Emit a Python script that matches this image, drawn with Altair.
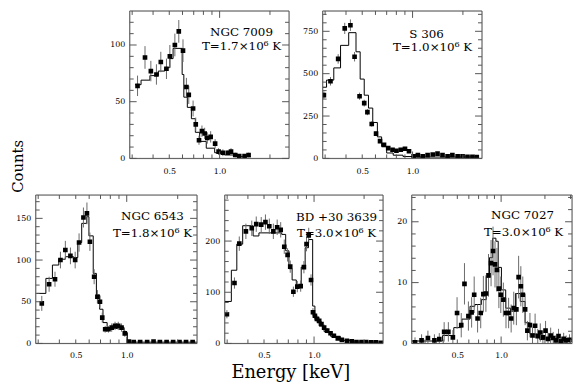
import altair as alt
import pandas as pd

FONT = "DejaVu Serif"
FRAME = "#555555"
ERRC = "#6a6a6a"

# ---------------- data ----------------
# NGC 7009
p1_E = [0.323, 0.358, 0.388, 0.419, 0.445, 0.481, 0.504, 0.540, 0.570, 0.604, 0.633, 0.654, 0.694, 0.720,
        0.753, 0.784, 0.814, 0.844, 0.884, 0.940, 0.986, 1.046, 1.120, 1.170, 1.240, 1.310, 1.410, 1.490]
p1_C = [64, 89, 77, 74, 85, 79, 90, 100, 112, 95, 63, 56, 44, 30, 16, 24, 22, 18, 19, 13, 6, 5, 5, 6, 3, 2, 2, 3]
p1_err = [9, 10, 9, 9, 9, 9, 10, 10, 10, 10, 8, 8, 7, 6, 4, 5, 5, 5, 5, 4, 3, 3, 2, 3, 2, 1, 1, 2]
p1_mE = [0.312, 0.339, 0.383, 0.430, 0.470, 0.504, 0.527, 0.597, 0.611, 0.641, 0.678, 0.716, 0.760, 0.832,
         0.934, 1.07, 1.285, 1.54]
p1_mC = [65, 69, 73, 77, 80, 88, 97, 74, 54, 45, 35, 23, 15, 9, 5, 3, 1.5, 1.5]

# S 306
p2_E = [0.295, 0.323, 0.359, 0.393, 0.425, 0.450, 0.482, 0.514, 0.537, 0.570, 0.605, 0.639, 0.675, 0.715,
        0.759, 0.801, 0.850, 0.901, 0.952, 1.015, 1.076, 1.15, 1.23, 1.32, 1.41, 1.51, 1.62, 1.73, 1.86,
        1.99, 2.13, 2.28, 2.42]
p2_C = [373, 455, 587, 767, 786, 600, 367, 326, 273, 203, 146, 102, 80, 61, 51, 45, 51, 57, 42, 13, 19, 13,
        19, 23, 28, 19, 13, 19, 13, 13, 9, 9, 8]
p2_err = [22, 25, 28, 33, 34, 28, 21, 20, 18, 16, 14, 12, 11, 10, 9, 9, 9, 10, 8, 5, 6, 5, 6, 6, 7, 6, 5, 6,
          5, 5, 4, 4, 4]
p2_mE = [0.289, 0.306, 0.338, 0.371, 0.415, 0.459, 0.486, 0.514, 0.545, 0.578, 0.616, 0.653, 0.700, 0.766,
         0.877, 1.053, 2.49]
p2_mC = [420, 462, 534, 667, 742, 629, 468, 373, 297, 212, 127, 70, 32, 19, 11, 8, 8]

# NGC 6543
p3_E = [0.315, 0.348, 0.377, 0.406, 0.434, 0.465, 0.496, 0.523, 0.555, 0.582, 0.606, 0.642, 0.671, 0.695,
        0.717, 0.746, 0.780, 0.815, 0.853, 0.891, 0.932, 0.974, 1.03, 1.10, 1.20, 1.32, 1.44, 1.57, 1.72,
        1.88, 2.05, 2.24, 2.45]
p3_C = [48, 71, 77, 100, 112, 105, 100, 121, 151, 156, 122, 80, 56, 50, 31, 17, 17, 19, 21, 21, 19, 12, 2.3,
        1.6, 1.6, 1.6, 2.3, 1.6, 1.6, 1.6, 1.6, 1.6, 1.6]
p3_err = [9, 9, 9, 10, 11, 10, 10, 11, 12, 13, 11, 9, 8, 7, 6, 4, 4, 5, 5, 5, 5, 4, 1.5, 1.2, 1.2, 1.2, 1.5,
          1.2, 1.2, 1.2, 1.2, 1.2, 1.2]
p3_mE = [0.294, 0.333, 0.364, 0.397, 0.434, 0.485, 0.514, 0.542, 0.580, 0.598, 0.634, 0.662, 0.692, 0.724,
         0.766, 0.827, 0.883, 0.965, 1.009, 2.62]
p3_mC = [60, 78, 94, 101, 104, 103, 121, 144, 152, 129, 84, 58, 41, 25, 17, 18, 19, 13, 1.5, 1.5]

# BD +30 3639
p4_E = [0.299, 0.332, 0.355, 0.389, 0.422, 0.449, 0.481, 0.510, 0.538, 0.569, 0.600, 0.630, 0.662, 0.693,
        0.719, 0.751, 0.793, 0.831, 0.869, 0.901, 0.929, 0.959, 0.985, 1.012, 1.04, 1.074, 1.108, 1.15,
        1.20, 1.257, 1.316, 1.39, 1.47, 1.577, 1.686, 1.80, 1.93, 2.06, 2.21, 2.36, 2.53]
p4_C = [57, 118, 195, 219, 225, 233, 232, 237, 229, 219, 227, 222, 189, 173, 150, 101, 111, 112, 149, 194,
        211, 124, 61, 54, 48, 44, 38, 31, 25, 20, 15, 10, 7, 5, 4, 2.5, 2.5, 2.5, 2, 2, 1.3]
p4_err = [8, 11, 14, 15, 15, 15, 15, 15, 15, 15, 15, 15, 14, 13, 12, 10, 11, 11, 12, 14, 15, 11, 8, 7, 7, 7,
          6, 6, 5, 4, 4, 3, 3, 2, 2, 2, 2, 2, 1.5, 1.5, 1.2]
p4_mE = [0.290, 0.318, 0.343, 0.372, 0.430, 0.466, 0.639, 0.675, 0.706, 0.738, 0.782, 0.837, 0.884, 0.926,
         0.981, 1.012, 1.074, 1.15, 1.257, 1.44, 1.73, 2.65]
p4_mC = [82, 143, 194, 230, 210, 216, 213, 181, 146, 124, 111, 149, 187, 203, 73, 47, 34, 23, 14, 6, 2.5, 2.5]

# NGC 7027
p5_E = [0.256, 0.284, 0.314, 0.348, 0.376, 0.406, 0.434, 0.466, 0.498, 0.532, 0.560, 0.596, 0.627, 0.653,
        0.689, 0.724, 0.755, 0.786, 0.819, 0.853, 0.880, 0.908, 0.936, 0.965, 0.995, 1.036, 1.080, 1.126,
        1.172, 1.221, 1.273, 1.319, 1.366, 1.409, 1.462, 1.515, 1.578, 1.643, 1.712, 1.785, 1.858, 1.937,
        2.02, 2.10, 2.19, 2.28, 2.38, 2.48, 2.58, 2.69, 2.80, 2.95]
p5_C = [0.2, 0.5, 0.9, 0.5, 0.7, 1.9, 1.9, 1.0, 5.0, 3.0, 9.8, 4.5, 5.1, 8.0, 4.1, 5.0, 8.1, 8.2, 11.2, 13.2,
        15.2, 13.0, 12.1, 9.0, 8.0, 7.2, 5.0, 5.0, 4.1, 5.8, 5.6, 10.9, 9.4, 8.0, 5.6, 2.1, 3.0, 1.3, 2.9,
        1.2, 1.8, 1.0, 2.1, 0.75, 1.3, 0.9, 0.5, 1.2, 0.3, 0.75, 0.5, 0.6]
p5_err = [0.8, 1.0, 1.2, 1.0, 1.0, 1.6, 1.6, 1.2, 2.6, 2.0, 3.4, 2.4, 2.5, 3.0, 2.3, 2.5, 3.0, 3.0, 3.5, 3.8,
          4.0, 3.8, 3.6, 3.2, 3.0, 2.8, 2.5, 2.5, 2.3, 2.7, 2.6, 3.5, 3.3, 3.0, 2.6, 1.6, 2.0, 1.3, 2.0, 1.2,
          1.5, 1.1, 1.6, 1.0, 1.3, 1.0, 0.8, 1.2, 0.7, 1.0, 0.8, 0.9]
p5_mE = [0.243, 0.396, 0.473, 0.538, 0.611, 0.660, 0.732, 0.791, 0.832, 0.875, 0.921, 0.955, 1.005, 1.075,
         1.16, 1.254, 1.354, 1.462, 1.578, 1.84, 3.07]
p5_mC = [0.4, 1.3, 2.6, 4.0, 6.1, 6.4, 7.2, 10.9, 14.1, 17.3, 16.8, 12.5, 8.8, 5.8, 5.3, 8.2, 6.9, 3.4, 1.55,
         0.64, 0.64]

names = ["NGC 7009", "S 306", "NGC 6543", "BD +30 3639", "NGC 7027"]
temps = ["T=1.7×10⁶ K", "T=1.0×10⁶ K", "T=1.8×10⁶ K", "T=3.0×10⁶ K", "T=3.0×10⁶ K"]
y_title = "Counts"
x_title = "Energy [keV]"

x_labels = [0.5, 1.0]
x_major = [1.0]
x_minor = [0.3, 0.4, 0.5, 0.6, 0.7, 0.8, 0.9, 2.0]
x_minor5 = [0.3, 0.4, 0.5, 0.6, 0.7, 0.8, 0.9, 2.0, 3.0]

y_major1 = [0, 50, 100]
y_minor1 = [10, 20, 30, 40, 60, 70, 80, 90, 110, 120]
y_major2 = [0, 250, 500, 750]
y_minor2 = [50, 100, 150, 200, 300, 350, 400, 450, 550, 600, 650, 700, 800, 850]
y_major3 = [0, 50, 100, 150]
y_minor3 = [10, 20, 30, 40, 60, 70, 80, 90, 110, 120, 130, 140, 160, 170]
y_major4 = [0, 100, 200]
y_minor4 = [20, 40, 60, 80, 120, 140, 160, 180, 220, 240, 260, 280]
y_major5 = [0, 10, 20]
y_minor5 = [2, 4, 6, 8, 12, 14, 16, 18, 22, 24]

ONE = pd.DataFrame({"a": [0]})


def panel(idx, E, C, err, mE, mC, xdom, ydom, ymaj, ymin, xmin, W, H, yext, xext, tpos, lpad):
    xs = alt.Scale(type="log", domain=xdom, nice=False)
    ys = alt.Scale(domain=ydom, nice=False, zero=False)
    ax_x = alt.Axis(values=x_labels, format=".1f", ticks=False, domain=False, grid=False,
                    labelFont=FONT, labelFontSize=8, labelColor="black", labelPadding=lpad,
                    minExtent=xext, labelFlush=False, title=None)
    ax_y = alt.Axis(values=ymaj, ticks=False, domain=False, grid=False,
                    labelFont=FONT, labelFontSize=8, labelColor="black", labelPadding=5,
                    minExtent=yext, title=None)
    pts = pd.DataFrame({"E": E, "C": C,
                        "lo": [c - e for c, e in zip(C, err)],
                        "hi": [c + e for c, e in zip(C, err)]})
    mdf = pd.DataFrame({"E": mE, "C": mC})

    model = alt.Chart(mdf).mark_line(interpolate="step-after", color="black", strokeWidth=1,
                                     clip=True).encode(
        x=alt.X("E:Q", scale=xs, axis=ax_x),
        y=alt.Y("C:Q", scale=ys, axis=ax_y),
    )
    bars = alt.Chart(pts).mark_rule(color=ERRC, strokeWidth=1, clip=True).encode(
        x=alt.X("E:Q", scale=xs, axis=ax_x),
        y=alt.Y("lo:Q", scale=ys, axis=ax_y),
        y2="hi:Q",
    )
    dots = alt.Chart(pts).mark_square(size=22, color="black", opacity=1, clip=True).encode(
        x=alt.X("E:Q", scale=xs, axis=ax_x),
        y=alt.Y("C:Q", scale=ys, axis=ax_y),
    )
    frame = alt.Chart(ONE).mark_rect(fillOpacity=0, stroke=FRAME, strokeWidth=1).encode(
        x=alt.value(0), x2=alt.value(W), y=alt.value(0), y2=alt.value(H))

    layers = [model, bars, dots, frame]

    def xt(vals, L):
        d = pd.DataFrame({"v": vals})
        top = alt.Chart(d).mark_rule(color=FRAME, strokeWidth=1).encode(
            x=alt.X("v:Q", scale=xs, axis=ax_x), y=alt.value(0), y2=alt.value(L))
        bot = alt.Chart(d).mark_rule(color=FRAME, strokeWidth=1).encode(
            x=alt.X("v:Q", scale=xs, axis=ax_x), y=alt.value(H), y2=alt.value(H - L))
        return [top, bot]

    def yt(vals, L):
        d = pd.DataFrame({"v": vals})
        lft = alt.Chart(d).mark_rule(color=FRAME, strokeWidth=1).encode(
            y=alt.Y("v:Q", scale=ys, axis=ax_y), x=alt.value(0), x2=alt.value(L))
        rgt = alt.Chart(d).mark_rule(color=FRAME, strokeWidth=1).encode(
            y=alt.Y("v:Q", scale=ys, axis=ax_y), x=alt.value(W), x2=alt.value(W - L))
        return [lft, rgt]

    layers += xt(x_major, 7) + xt(xmin, 4) + yt(ymaj, 7) + yt(ymin, 4)

    (x1, y1), (x2, y2) = tpos
    t1 = alt.Chart(pd.DataFrame({"t": [names[idx]]})).mark_text(
        font=FONT, fontSize=12, align="center", baseline="middle", color="black").encode(
        text="t:N", x=alt.value(x1), y=alt.value(y1))
    t2 = alt.Chart(pd.DataFrame({"t": [temps[idx]]})).mark_text(
        font=FONT, fontSize=12, align="center", baseline="middle", color="black").encode(
        text="t:N", x=alt.value(x2), y=alt.value(y2))
    layers += [t1, t2]
    return alt.layer(*layers).properties(width=W, height=H)


XD = [0.29, 2.6]
HT = 149
HB = 150

# invisible spacer in the top row that also carries the rotated "Counts" label
spacer = alt.Chart(pd.DataFrame({"t": [y_title]})).mark_text(
    font=FONT, fontSize=15, angle=270, align="center", baseline="middle", color="black").encode(
    text="t:N", x=alt.value(-18), y=alt.value(157)).properties(
    width=70, height=HT, view=alt.ViewBackground(strokeOpacity=0))

c1 = panel(0, p1_E, p1_C, p1_err, p1_mE, p1_mC, XD, [0, 130], y_major1, y_minor1, x_minor, 161, HT, 24, 35,
           ((113, 21), (113, 35)), 9)
c2 = panel(1, p2_E, p2_C, p2_err, p2_mE, p2_mC, XD, [0, 870], y_major2, y_minor2, x_minor, 161, HT, 32, 35,
           ((105, 23), (111, 36)), 9)
c3 = panel(2, p3_E, p3_C, p3_err, p3_mE, p3_mC, XD, [0, 178], y_major3, y_minor3, x_minor, 163, HB, 27, 18,
           ((118, 21), (118, 38)), 8)
c4 = panel(3, p4_E, p4_C, p4_err, p4_mE, p4_mC, XD, [0, 290], y_major4, y_minor4, x_minor, 160, HB, 26, 18,
           ((113, 22), (113, 38)), 8)
c5 = panel(4, p5_E, p5_C, p5_err, p5_mE, p5_mC, [0.243, 3.07], [0, 24.4], y_major5, y_minor5, x_minor5,
           162, HB, 27, 18, ((112, 20), (113, 37)), 8)

top = alt.hconcat(spacer, c1, c2, spacing=0)
bottom = alt.hconcat(c3, c4, c5, spacing=0).properties(
    title=alt.TitleParams(x_title, orient="bottom", anchor="middle", font=FONT, fontSize=18,
                          fontWeight="normal", color="black", offset=2))

chart = alt.ConcatChart(concat=[top, bottom], columns=1, align="none", spacing=0, padding=0)

chart.save("out.html", embed_options={"renderer": "svg", "actions": False})
